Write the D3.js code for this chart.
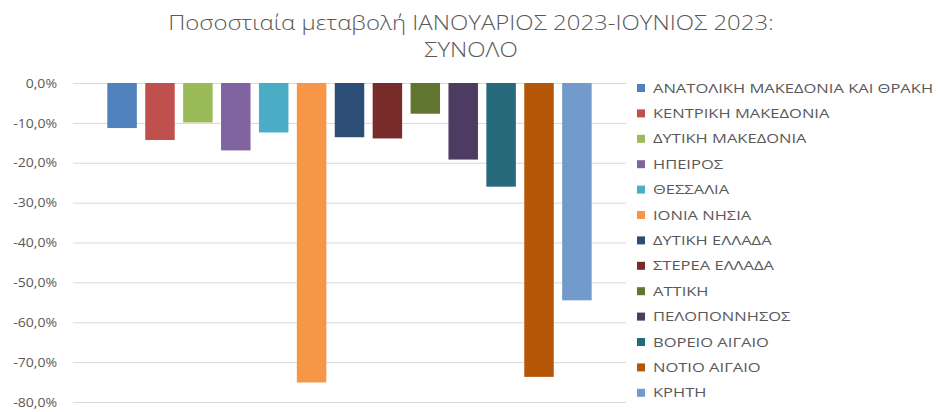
<!DOCTYPE html>
<html>
<head>
<meta charset="utf-8">
<script src="https://cdn.jsdelivr.net/npm/d3@7"></script>
<style>
  body { margin: 0; background: #fff; }
  svg { font-family: "Open Sans", "Liberation Sans", sans-serif; }
</style>
</head>
<body>
<div id="chart"></div>
<script>
const regions = [
  "ΑΝΑΤΟΛΙΚΗ ΜΑΚΕΔΟΝΙΑ ΚΑΙ ΘΡΑΚΗ", "ΚΕΝΤΡΙΚΗ ΜΑΚΕΔΟΝΙΑ", "ΔΥΤΙΚΗ ΜΑΚΕΔΟΝΙΑ",
  "ΗΠΕΙΡΟΣ", "ΘΕΣΣΑΛΙΑ", "ΙΟΝΙΑ ΝΗΣΙΑ", "ΔΥΤΙΚΗ ΕΛΛΑΔΑ", "ΣΤΕΡΕΑ ΕΛΛΑΔΑ",
  "ΑΤΤΙΚΗ", "ΠΕΛΟΠΟΝΝΗΣΟΣ", "ΒΟΡΕΙΟ ΑΙΓΑΙΟ", "ΝΟΤΙΟ ΑΙΓΑΙΟ", "ΚΡΗΤΗ"
];
const changes = [-11.3, -14.3, -9.9, -16.9, -12.4, -75.1, -13.6, -13.9, -7.7, -19.2, -26.0, -73.7, -54.5];
const colors = [
  "#4f81bd", "#c0504d", "#9bbb59", "#8064a2", "#4bacc6", "#f79646",
  "#2c4d75", "#772c2a", "#5f7530", "#4d3b62", "#276a7c", "#b65708", "#729aca"
];
const yTicks = [0, -10, -20, -30, -40, -50, -60, -70, -80];
const titleLines = ["Ποσοστιαία μεταβολή ΙΑΝΟΥΑΡΙΟΣ 2023-ΙΟΥΝΙΟΣ 2023:", "ΣΥΝΟΛΟ"];

const width = 941, height = 412;
const plot = { left: 73, right: 626, top: 83, bottom: 402 };

const svg = d3.select("#chart").append("svg")
  .attr("width", width).attr("height", height);

// the original font is wider than Open Sans, so widen the glyphs a bit
function stretch(sel, k) {
  sel.each(function () {
    const w = this.getComputedTextLength();
    d3.select(this).attr("textLength", w * k).attr("lengthAdjust", "spacingAndGlyphs");
  });
}

const y = d3.scaleLinear().domain([0, -80]).range([plot.top, plot.bottom]);
const x = d3.scaleBand().domain(regions)
  .range([plot.left, plot.right])
  .paddingInner(0.222).paddingOuter(0.906);

// title
svg.append("g").selectAll("text")
  .data(titleLines)
  .join("text")
  .attr("x", 471)
  .attr("y", (d, i) => 30 + i * 27)
  .attr("text-anchor", "middle")
  .attr("fill", "#595959")
  .style("font-size", "21px")
  .style("font-weight", 300)
  .text(d => d)
  .call(stretch, 1.14);

// gridlines + y axis labels
const fmt = v => (v === 0 ? "0,0" : v.toFixed(1).replace(".", ",")) + "%";
const yAxis = svg.append("g")
  .attr("transform", `translate(${plot.left},0)`)
  .call(d3.axisLeft(y).tickValues(yTicks).tickSize(-(plot.right - plot.left)).tickPadding(16).tickFormat(fmt));
yAxis.select(".domain").remove();
yAxis.selectAll(".tick line").attr("stroke", "#d9d9d9");
yAxis.selectAll(".tick text")
  .attr("fill", "#595959")
  .style("font-size", "13px")
  .style("font-family", "'Open Sans', sans-serif")
  .call(stretch, 1.08);

// bars
svg.append("g").selectAll("rect")
  .data(regions)
  .join("rect")
  .attr("x", d => x(d))
  .attr("width", x.bandwidth())
  .attr("y", y(0))
  .attr("height", (d, i) => y(changes[i]) - y(0))
  .attr("fill", (d, i) => colors[i]);

// legend
const legend = svg.append("g").selectAll("g")
  .data(regions)
  .join("g")
  .attr("transform", (d, i) => `translate(637,${88 + i * 25.4})`);
legend.append("rect")
  .attr("x", 0).attr("y", -4)
  .attr("width", 8).attr("height", 8)
  .attr("fill", (d, i) => colors[i]);
legend.append("text")
  .attr("x", 16).attr("y", 0)
  .attr("dy", "0.35em")
  .attr("fill", "#595959")
  .style("font-size", "13px")
  .text(d => d)
  .call(stretch, 1.27);
</script>
</body>
</html>
